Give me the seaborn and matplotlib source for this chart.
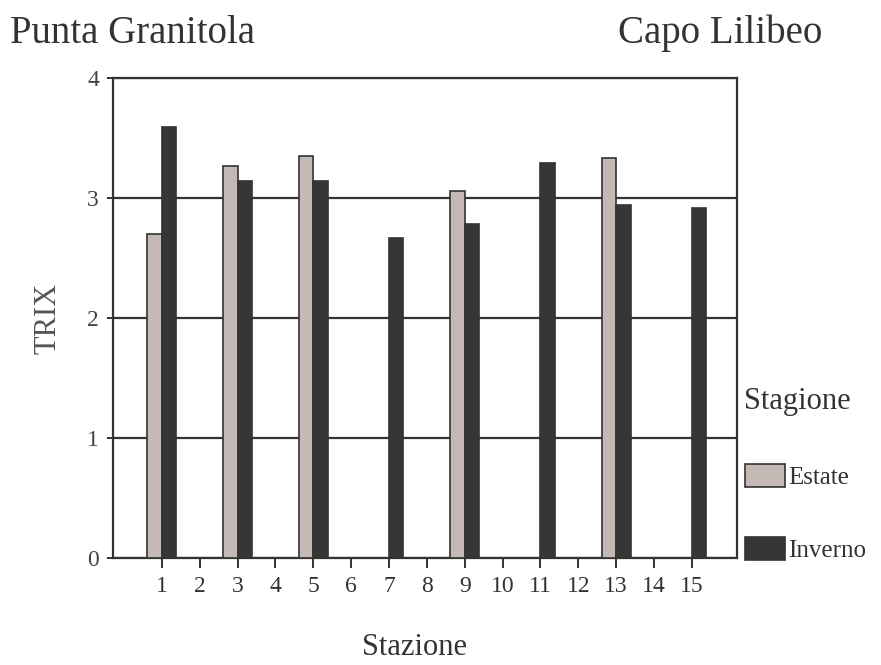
import numpy as np
import pandas as pd
import matplotlib
matplotlib.use("Agg")
import matplotlib.pyplot as plt
import seaborn as sns

# === data ===
stations = [str(i) for i in range(1, 16)]
estate = [2.70, np.nan, 3.27, np.nan, 3.35, np.nan, np.nan, np.nan, 3.06, np.nan,
          np.nan, np.nan, 3.33, np.nan, np.nan]
inverno = [3.59, np.nan, 3.14, np.nan, 3.14, np.nan, 2.67, np.nan, 2.78, np.nan,
           3.29, np.nan, 2.94, np.nan, 2.92]
seasons = ["Estate", "Inverno"]
season_colors = ["#c4b9b5", "#363636"]

df = pd.DataFrame({
    "Stazione": stations * 2,
    "Stagione": ["Estate"] * len(stations) + ["Inverno"] * len(stations),
    "TRIX": estate + inverno,
})

# === style ===
sns.set_theme(style="white")
plt.rcParams["font.family"] = ["Liberation Serif", "DejaVu Serif"]
dark = "#333333"

fig = plt.figure(figsize=(8.81, 6.65), dpi=100)
ax = fig.add_axes([113 / 881, 1 - 558 / 665, (737 - 113) / 881, (558 - 78) / 665])

sns.barplot(
    data=df, x="Stazione", y="TRIX", hue="Stagione",
    order=stations, hue_order=seasons,
    palette=season_colors, saturation=1,
    width=0.76, gap=0, edgecolor=dark, linewidth=1.2,
    ax=ax, zorder=3,
)

ax.set_xlim(-1.29, 15.19)
ax.set_ylim(0, 4)
ax.set_yticks([0, 1, 2, 3, 4])
ax.set_axisbelow(True)
ax.yaxis.grid(True, color=dark, linewidth=1.6)
ax.xaxis.grid(False)
for sp in ax.spines.values():
    sp.set_color(dark)
    sp.set_linewidth(1.6)

ax.tick_params(axis="x", bottom=True, length=7, width=1.4, color=dark,
               labelsize=17, labelcolor="#333333", pad=6, direction="out")
ax.tick_params(axis="y", left=True, length=4, width=1.4, color=dark,
               labelsize=17, labelcolor="#444444", pad=6, direction="out")

ax.set_ylabel("TRIX", fontsize=22, color="#555555", labelpad=18)
ax.set_xlabel("Stazione", fontsize=22, color="#333333")
ax.xaxis.label.set_va("baseline")
ax.xaxis.set_label_coords((415 - 113) / (737 - 113), -(655 - 558) / (558 - 78))

# === legend ===
handles, labels = ax.get_legend_handles_labels()
if ax.get_legend() is not None:
    ax.get_legend().remove()
leg = fig.legend(
    handles, labels, title="Stagione",
    loc="upper left", bbox_to_anchor=(727 / 881, 1 - 370 / 665),
    frameon=False, fontsize=18, title_fontsize=22,
    handlelength=1.6, handleheight=1.05, handletextpad=0.15,
    labelspacing=1.9, alignment="left", borderpad=0.2,
)
for t in leg.get_texts():
    t.set_color(dark)
leg.get_title().set_color(dark)

# === station group labels ===
fig.text(10 / 881, 1 - 43 / 665, "Punta Granitola", fontsize=28,
         color=dark, ha="left", va="baseline")
fig.text(822 / 881, 1 - 43 / 665, "Capo Lilibeo", fontsize=28,
         color=dark, ha="right", va="baseline")

fig.savefig("out.png", dpi=100)
